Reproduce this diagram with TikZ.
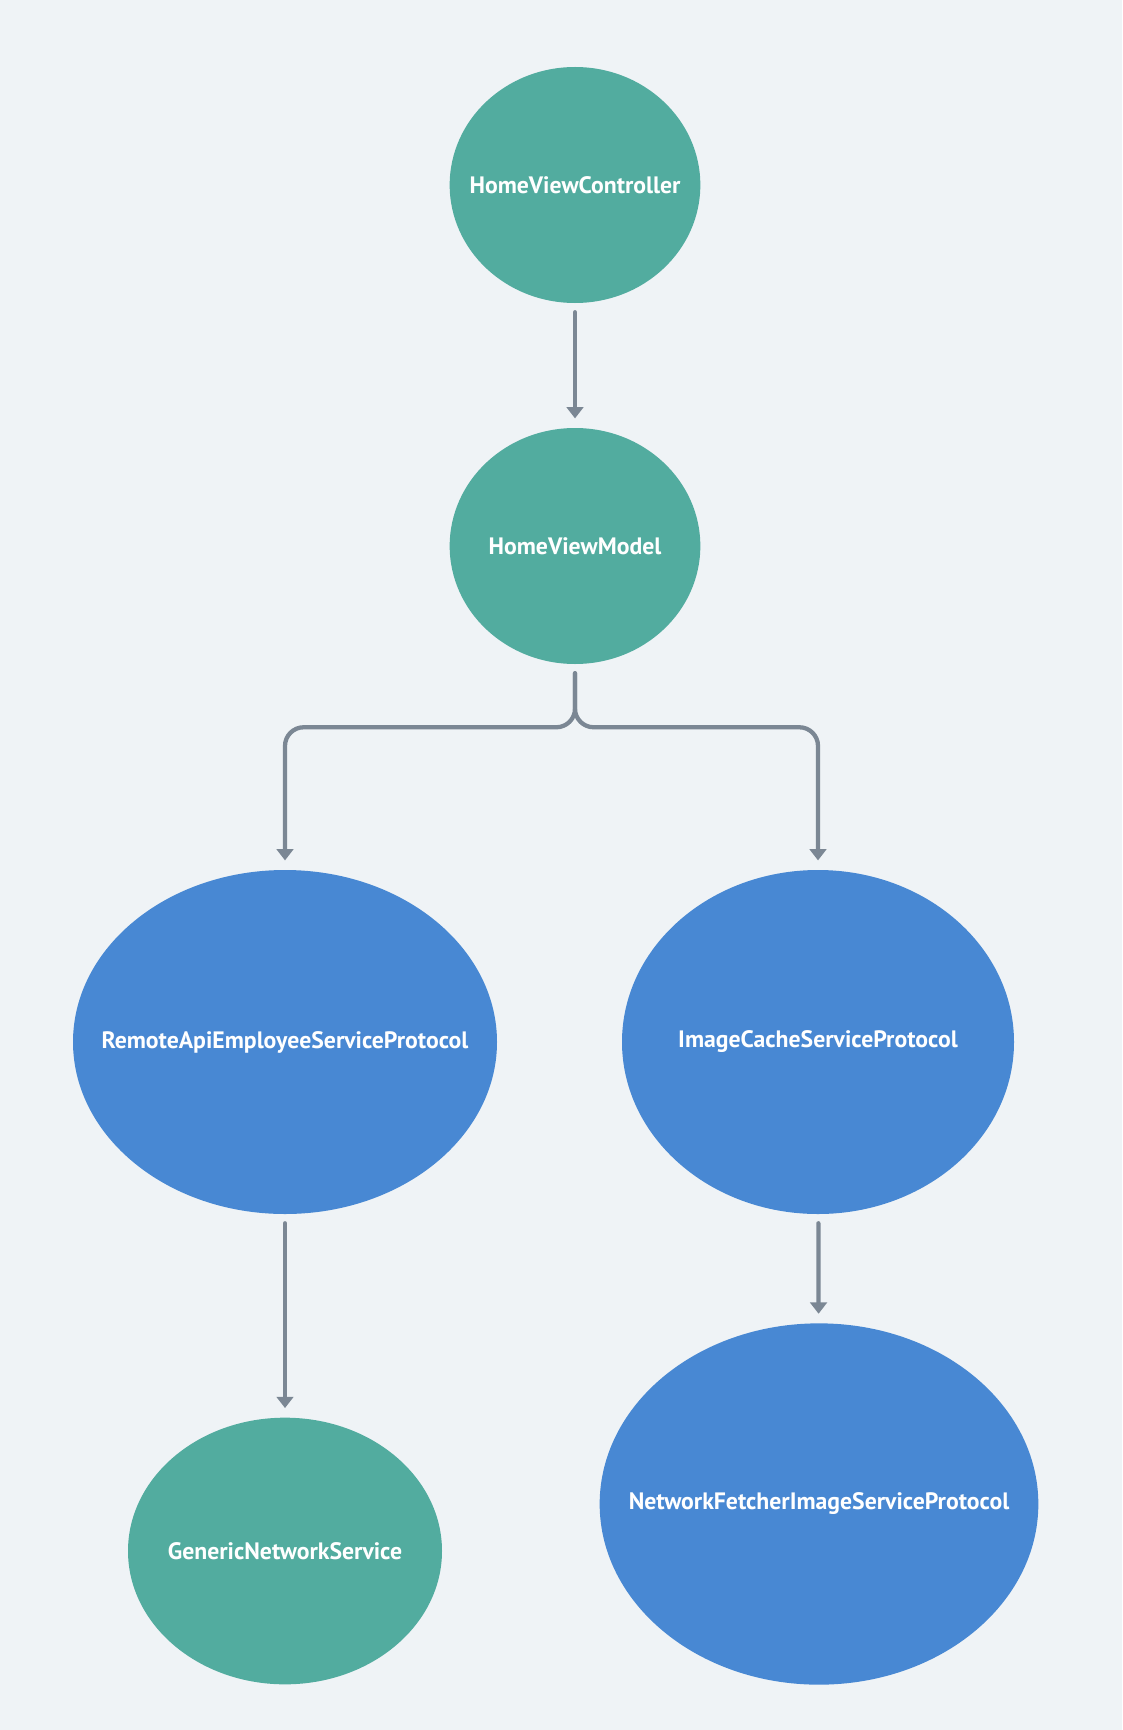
\documentclass[tikz,border=0pt]{standalone}
\usepackage{fontspec}
\setmainfont{PT Sans}
\usepackage{xcolor}
\usepackage{tikz}
\usetikzlibrary{shapes}
\usetikzlibrary{arrows.meta}

\definecolor{pagebg}{RGB}{239,243,246}
\definecolor{tealball}{RGB}{82,172,159}
\definecolor{blueball}{RGB}{72,136,211}
\definecolor{linkgray}{RGB}{123,135,148}

\tikzset{
  ball/.style={ellipse, draw=none, inner sep=0pt,
    label={[text=white, font=\fontsize{17.8}{21}\selectfont\bfseries]center:#1}},
  tealnode/.style={ball=#1, fill=tealball},
  bluenode/.style={ball=#1, fill=blueball},
  link/.style={draw=linkgray, line width=3.2pt, line cap=round,
    -{Triangle[width=12.5pt,length=8.5pt]}, shorten <=6.75pt, shorten >=7pt}
}

\begin{document}
\begin{tikzpicture}[x=0.75pt,y=0.75pt,yscale=-1,xscale=1]
%Background
\fill [pagebg] (0,0) rectangle (1122,1730) ;
\useasboundingbox (0,0) rectangle (1122,1730) ;

%Ellipse
\node [tealnode={HomeViewController}, minimum width=188pt, minimum height=177pt] (hvc) at (575,185) {} ;
%Ellipse
\node [tealnode={HomeViewModel}, minimum width=188pt, minimum height=177pt] (hvm) at (575,546) {} ;
%Ellipse
\node [bluenode={RemoteApiEmployeeServiceProtocol}, minimum width=318pt, minimum height=258pt] (remote) at (285,1042) {} ;
%Ellipse
\node [bluenode={ImageCacheServiceProtocol}, minimum width=294pt, minimum height=258pt] (cache) at (818,1042) {} ;
%Ellipse
\node [tealnode={GenericNetworkService}, minimum width=235.5pt, minimum height=200pt] (generic) at (285,1551) {} ;
%Ellipse
\node [bluenode={NetworkFetcherImageServiceProtocol}, minimum width=329pt, minimum height=271pt] (fetcher) at (819,1504) {} ;

%Straight Lines
\draw [link] (hvc) -- (hvm) ;
%Elbow Lines
\draw [link, rounded corners=14pt] (hvm.south) -- ++(0,63) -| (remote.north) ;
\draw [link, rounded corners=14pt] (hvm.south) -- ++(0,63) -| (cache.north) ;
%Straight Lines
\draw [link] (remote) -- (generic) ;
\draw [link] (cache) -- (fetcher) ;

\end{tikzpicture}
\end{document}
